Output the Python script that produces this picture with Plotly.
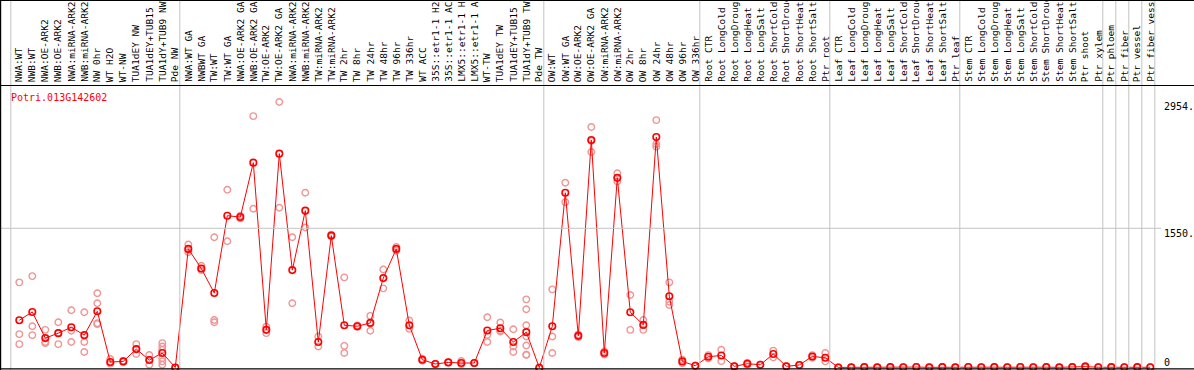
import plotly.graph_objects as go

# ---------------- data ----------------
gene_id = "Potri.013G142602"

categories = [
    "NWA:WT", "NWB:WT", "NWA:OE-ARK2", "NWB:OE-ARK2", "NWA:miRNA-ARK2", "NWB:miRNA-ARK2",
    "NW 0hr", "WT H2O", "WT-NW", "TUA1dEY NW", "TUA1dEY+TUB15 NW", "TUA1dY+TUB9 NW", "Pde NW",
    "NWA:WT GA", "NWBWT GA", "TW:WT", "TW:WT GA", "NWA:OE-ARK2 GA", "NWB:OE-ARK2 GA",
    "TW:OE-ARK2", "TW:OE-ARK2 GA", "NWA:miRNA-ARK2", "NWB:miRNA-ARK2", "TW:miRNA-ARK2",
    "TW:miRNA-ARK2", "TW 2hr", "TW 8hr", "TW 24hr", "TW 48hr", "TW 96hr", "TW 336hr",
    "WT ACC", "35S::etr1-1 H2O", "35S::etr1-1 ACC", "LMX5::etr1-1 H2O", "LMX5::etr1-1 ACC",
    "WT-TW", "TUA1dEY TW", "TUA1dEY+TUB15 TW", "TUA1dY+TUB9 TW", "Pde TW",
    "OW:WT", "OW:WT GA", "OW:OE-ARK2", "OW:OE-ARK2 GA", "OW:miRNA-ARK2", "OW:miRNA-ARK2",
    "OW 2hr", "OW 8hr", "OW 24hr", "OW 48hr", "OW 96hr", "OW 336hr",
    "Root CTR", "Root LongCold", "Root LongDrought", "Root LongHeat", "Root LongSalt",
    "Root ShortCold", "Root ShortDrought", "Root ShortHeat", "Root ShortSalt", "Ptr root",
    "Leaf CTR", "Leaf LongCold", "Leaf LongDrought", "Leaf LongHeat", "Leaf LongSalt",
    "Leaf ShortCold", "Leaf ShortDrought", "Leaf ShortHeat", "Leaf ShortSalt", "Ptr leaf",
    "Stem CTR", "Stem LongCold", "Stem LongDrought", "Stem LongHeat", "Stem LongSalt",
    "Stem ShortCold", "Stem ShortDrought", "Stem ShortHeat", "Stem ShortSalt", "Ptr shoot",
    "Ptr xylem", "Ptr phloem", "Ptr fiber", "Ptr vessel", "Ptr fiber vessel",
]

mean_values = [
    528, 620, 329, 384, 450, 362, 627, 63, 70, 207, 85, 163, 3,
    1321, 1103, 830, 1690, 1675, 2280, 421, 2380, 1085, 1746, 285, 1469,
    472, 461, 498, 996, 1321, 472, 89, 41, 59, 52, 52, 413, 439, 285, 395, 0,
    461, 1945, 354, 2532, 163, 2111, 616, 476, 2565, 794, 70, 22,
    122, 136, 15, 44, 33, 152, 15, 30, 125, 111,
    3, 4, 6, 4, 6, 5, 7, 4, 6, 4,
    7, 5, 6, 5, 7, 5, 6, 4, 6, 12, 5,
    6, 5, 6, 5,
]

replicates = [
    [949, 373, 262], [1018, 461, 362], [421, 285, 273], [506, 384, 262],
    [639, 410, 285], [616, 285, 174], [827, 716, 495, 484], [96, 52, 45],
    [75, 65], [262, 207, 152], [141, 85, 33], [273, 236, 199, 107, 70, 33], [0, 0],
    [1369, 1284, 1310], [1133, 1085, 1100], [1450, 531, 506], [1978, 1406],
    [1690, 1660], [2797, 1768], [457, 384], [2954, 1779], [1450, 716],
    [1945, 1558], [347, 236], [1480, 1458], [1004, 243, 163], [470, 452],
    [576, 410, 498], [1092, 882], [1343, 1300], [524, 432], [100, 78], [41, 41],
    [59, 59], [75, 40], [52, 52], [561, 365, 285], [502, 402, 413],
    [428, 236, 174], [760, 650, 472, 347, 247, 144, 144], [0, 0],
    [871, 347, 163], [2056, 1841], [370, 340], [2676, 2399, 2521], [180, 146],
    [2162, 2070], [808, 421], [530, 421], [2753, 2487, 2458], [949, 734, 697],
    [90, 50], [22, 22],
    [140, 104], [199, 73], [15, 15], [55, 33], [33, 33], [190, 115], [15, 15],
    [30, 30], [140, 110], [163, 70],
    [3, 3], [4, 4], [6, 6], [4, 4], [6, 6], [5, 5], [7, 7], [4, 4], [6, 6], [4, 4],
    [7, 7], [5, 5], [6, 6], [5, 5], [7, 7], [5, 5], [6, 6], [4, 4], [6, 6], [20, 8], [5, 5],
    [6, 6], [5, 5], [6, 6], [5, 5],
]

group_starts = [0, 13, 41, 53, 63, 73, 84, 85, 86, 87, 88]
y_ticks = [2954, 1550, 0]
y_tick_labels = ["2954.", "1550.", "0"]

# ---------------- geometry ----------------
W, H = 1194, 370
X0_PX, STEP = 19.3, 13.0
x_lo = -X0_PX / STEP
x_hi = x_lo + W / STEP
ZERO_PX, SCALE = 367.7, 0.08994
y_lo = (ZERO_PX - H) / SCALE
y_hi = ZERO_PX / SCALE


def py(p):
    return 1 - p / H


def pxp(p):
    return p / W


FONT = "DejaVu Sans Mono"
RED = "#ff0000"
PINK = "#f09494"
GRID = "#c4c4c4"

fig = go.Figure()

rx, ry = [], []
for i, reps in enumerate(replicates):
    for v in reps:
        rx.append(i)
        ry.append(v)

fig.add_trace(go.Scatter(
    x=rx, y=ry, mode="markers",
    marker=dict(symbol="circle-open", size=6.5, color=PINK, line=dict(width=1.4, color=PINK)),
    hoverinfo="skip",
))
fig.add_trace(go.Scatter(
    x=list(range(len(mean_values))), y=mean_values, mode="lines+markers",
    line=dict(color=RED, width=1),
    marker=dict(symbol="circle-open", size=6.5, color=RED, line=dict(width=1.6, color=RED)),
))

shapes = []
for g in group_starts:
    shapes.append(dict(type="line", xref="x", yref="paper", x0=g - 8.5 / STEP, x1=g - 8.5 / STEP,
                       y0=0, y1=py(1), line=dict(color=GRID, width=1)))
shapes.append(dict(type="line", xref="paper", yref="y", x0=0, x1=pxp(1161), y0=1550, y1=1550,
                   line=dict(color=GRID, width=1)))
# frame lines
for p in (0.5, 85.5, 368.8):
    shapes.append(dict(type="line", xref="paper", yref="paper", x0=0, x1=1, y0=py(p), y1=py(p),
                       line=dict(color="black", width=1.2)))
shapes.append(dict(type="line", xref="paper", yref="paper", x0=pxp(0.6), x1=pxp(0.6), y0=0, y1=1,
                   line=dict(color="black", width=1.2)))

annotations = []
for i, lab in enumerate(categories):
    annotations.append(dict(
        x=i - 0.05, y=py(84), xref="x", yref="paper", text=lab, showarrow=False,
        textangle=-90, xanchor="center", yanchor="bottom",
        font=dict(family=FONT, size=9.5, color="black"),
    ))
annotations.append(dict(x=pxp(9), y=py(97.5), xref="paper", yref="paper", text=gene_id,
                        showarrow=False, xanchor="left", yanchor="middle",
                        font=dict(family=FONT, size=10, color=RED)))
label_centers_px = [107, 233, 362]
for t, cp in zip(y_tick_labels, label_centers_px):
    annotations.append(dict(x=pxp(1162), y=py(cp), xref="paper", yref="paper", text=t,
                            showarrow=False, xanchor="left", yanchor="middle",
                            font=dict(family=FONT, size=10, color="black")))

fig.update_layout(
    width=W, height=H, margin=dict(l=0, r=0, t=0, b=0),
    paper_bgcolor="white", plot_bgcolor="white", showlegend=False,
    xaxis=dict(range=[x_lo, x_hi], visible=False, fixedrange=True),
    yaxis=dict(range=[y_lo, y_hi], visible=False, fixedrange=True),
    shapes=shapes, annotations=annotations,
)

fig.write_html("out.html", config={"displayModeBar": False},
               post_script="document.body.style.margin='0';document.body.style.overflow='hidden';")
